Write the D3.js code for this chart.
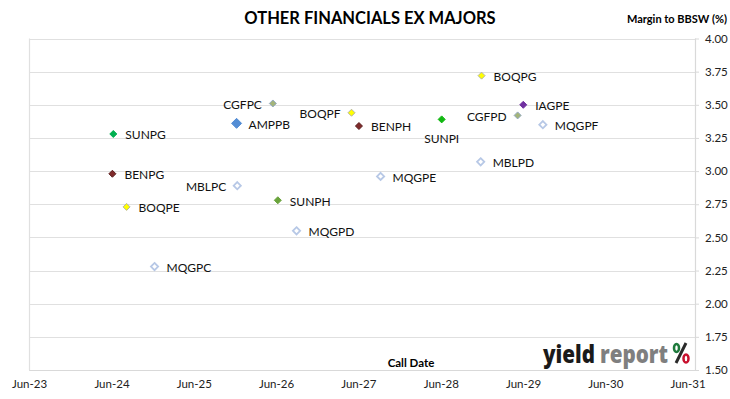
<!DOCTYPE html>
<html>
<head>
<meta charset="utf-8">
<script src="https://cdn.jsdelivr.net/npm/d3@7"></script>
<style>
  html, body { margin: 0; padding: 0; background: #fff; }
  svg { display: block; }
</style>
</head>
<body>
<svg id="chart" width="730" height="399"></svg>
<script>
// ---- Data ----
const securities = ["SUNPG","BENPG","BOQPE","MQGPC","MBLPC","AMPPB","CGFPC","BOQPF","BENPH","SUNPH","MQGPD","MQGPE","SUNPI","BOQPG","MBLPD","IAGPE","CGFPD","MQGPF"];
const callDates  = ["2024-06-09","2024-06-05","2024-08-07","2024-12-09","2025-12-11","2025-12-08","2026-05-18","2027-05-02","2027-06-04","2026-06-09","2026-08-31","2027-09-08","2028-06-05","2028-11-29","2028-11-25","2029-06-02","2029-05-08","2029-08-28"];
const margins    = [3.28, 2.98, 2.73, 2.28, 2.89, 3.36, 3.51, 3.44, 3.34, 2.78, 2.55, 2.96, 3.39, 3.72, 3.07, 3.50, 3.42, 3.35];
const issuerGroup = ["SUN1","BEN","BOQ","MQG","MQG","AMP","CGF","BOQ","BEN","SUN2","MQG","MQG","SUN3","BOQ","MQG","IAG","CGF","MQG"];
const labelSide  = ["right","right","right","right","left","right","left","left","right","right","right","right","below","right","right","right","left","right"];
const yTicks = [1.50, 1.75, 2.00, 2.25, 2.50, 2.75, 3.00, 3.25, 3.50, 3.75, 4.00];
const xTickDates = ["2023-06-01","2024-06-01","2025-06-01","2026-06-01","2027-06-01","2028-06-01","2029-06-01","2030-06-01","2031-06-01"];
const xDomain = ["2023-06-01","2031-07-04"];

// ---- Styles ----
const groupStyle = {
  SUN1: {fill:"#00B050", stroke:"#00B050", size:3.5, sw:1},
  SUN2: {fill:"#6AA43C", stroke:"#6AA43C", size:3.5, sw:1},
  SUN3: {fill:"#11B811", stroke:"#11B811", size:3.5, sw:1},
  BEN:  {fill:"#7F2A2A", stroke:"#5A1E1E", size:3.5, sw:1},
  BOQ:  {fill:"#FFFF00", stroke:"#B5B5A0", size:3.5, sw:1},
  MQG:  {fill:"#FFFFFF", stroke:"#B7C8E6", size:3.6, sw:1.8},
  AMP:  {fill:"#538DD5", stroke:"#538DD5", size:5, sw:1},
  CGF:  {fill:"#A3B47A", stroke:"#93A9C3", size:3.5, sw:1},
  IAG:  {fill:"#7030A0", stroke:"#7030A0", size:3.5, sw:1}
};

const font = "Lato, 'Open Sans', sans-serif";
const svg = d3.select("#chart");
const parse = d3.timeParse("%Y-%m-%d");
const fmt = d3.timeFormat("%b-%y");

const plot = {left: 29, right: 695, top: 38.5, bottom: 370};
const x = d3.scaleTime().domain(xDomain.map(parse)).range([plot.left, plot.right]);
const y = d3.scaleLinear().domain([1.5, 4.0]).range([plot.bottom, plot.top]);

// gridlines
svg.append("g").selectAll("line").data(yTicks).join("line")
  .attr("x1", plot.left).attr("x2", plot.right)
  .attr("y1", d => Math.round(y(d)) + 0.5).attr("y2", d => Math.round(y(d)) + 0.5)
  .attr("stroke", "#E0E0E0").attr("stroke-width", 1.2);

// left border
svg.append("line").attr("x1", plot.left + 0.5).attr("x2", plot.left + 0.5)
  .attr("y1", plot.top).attr("y2", plot.bottom)
  .attr("stroke", "#E0E0E0").attr("stroke-width", 1.2);

// right y axis
const yAxis = d3.axisRight(y).tickValues(yTicks).tickFormat(d3.format(".2f")).tickSize(4).tickPadding(6);
const gy = svg.append("g").attr("transform", `translate(${plot.right},0)`).call(yAxis);
gy.select(".domain").attr("stroke", "#D9D9D9").attr("stroke-width", 1.2).attr("d", `M0.5,${plot.top}V${plot.bottom}`);
gy.selectAll(".tick line").attr("stroke", "#D9D9D9");
gy.selectAll(".tick text").attr("fill", "#222").style("font-family", font).style("font-size", "11.5px");

// bottom x axis
const xAxis = d3.axisBottom(x).tickValues(xTickDates.map(parse)).tickFormat(fmt).tickSize(0).tickPadding(10);
const gx = svg.append("g").attr("transform", `translate(0,${plot.bottom})`).call(xAxis);
gx.select(".domain").attr("stroke", "#D9D9D9").attr("stroke-width", 1.2);
gx.selectAll(".tick text").attr("fill", "#222").style("font-family", font).style("font-size", "11.5px");

// points
const data = securities.map((s, i) => ({name: s, date: parse(callDates[i]), v: margins[i], g: issuerGroup[i], side: labelSide[i]}));
const diamond = r => `M0,${-r}L${r},0L0,${r}L${-r},0Z`;

const pts = svg.append("g").selectAll("g").data(data).join("g")
  .attr("transform", d => `translate(${x(d.date)},${y(d.v)})`);
pts.append("path")
  .attr("d", d => diamond(groupStyle[d.g].size))
  .attr("fill", d => groupStyle[d.g].fill)
  .attr("stroke", d => groupStyle[d.g].stroke)
  .attr("stroke-width", d => groupStyle[d.g].sw);
pts.append("text")
  .text(d => d.name)
  .attr("x", d => d.side === "right" ? 12 : d.side === "left" ? -11 : 0)
  .attr("y", d => d.side === "below" ? 19 : 1)
  .attr("dy", "0.36em")
  .attr("text-anchor", d => d.side === "right" ? "start" : d.side === "left" ? "end" : "middle")
  .attr("fill", "#111")
  .style("font-family", font).style("font-size", "12px");

// titles
svg.append("text").attr("x", 370).attr("y", 24).attr("text-anchor", "middle")
  .style("font-family", font).style("font-weight", "bold").style("font-size", "16.5px")
  .attr("fill", "#000").text("OTHER FINANCIALS EX MAJORS");
svg.append("text").attr("x", 727).attr("y", 23).attr("text-anchor", "end")
  .style("font-family", font).style("font-weight", "bold").style("font-size", "11px")
  .attr("fill", "#000").text("Margin to BBSW (%)");
svg.append("text").attr("x", 411).attr("y", 367).attr("text-anchor", "middle")
  .style("font-family", font).style("font-weight", "bold").style("font-size", "11.5px")
  .attr("fill", "#000").text("Call Date");

// logo
const logoFont = "'Open Sans', sans-serif";
svg.append("text").attr("x", 543).attr("y", 363)
  .attr("textLength", 52).attr("lengthAdjust", "spacingAndGlyphs")
  .style("font-family", logoFont).style("font-weight", "800").style("font-size", "25px")
  .attr("fill", "#1a1a1a").text("yield");
svg.append("text").attr("x", 600).attr("y", 363)
  .attr("textLength", 68).attr("lengthAdjust", "spacingAndGlyphs")
  .style("font-family", logoFont).style("font-weight", "800").style("font-size", "25px")
  .attr("fill", "#7f7f7f").text("report");
const pg = svg.append("g").attr("transform", "translate(681,353)");
pg.append("line").attr("x1", 5).attr("y1", -10).attr("x2", -5).attr("y2", 10).attr("stroke", "#2a2a2a").attr("stroke-width", 3);
pg.append("ellipse").attr("cx", -4.5).attr("cy", -5).attr("rx", 2.5).attr("ry", 4).attr("fill", "none").attr("stroke", "#1e7a3c").attr("stroke-width", 2.5);
pg.append("ellipse").attr("cx", 5).attr("cy", 5.5).attr("rx", 2.5).attr("ry", 4).attr("fill", "none").attr("stroke", "#c8102e").attr("stroke-width", 2.5);
</script>
</body>
</html>
